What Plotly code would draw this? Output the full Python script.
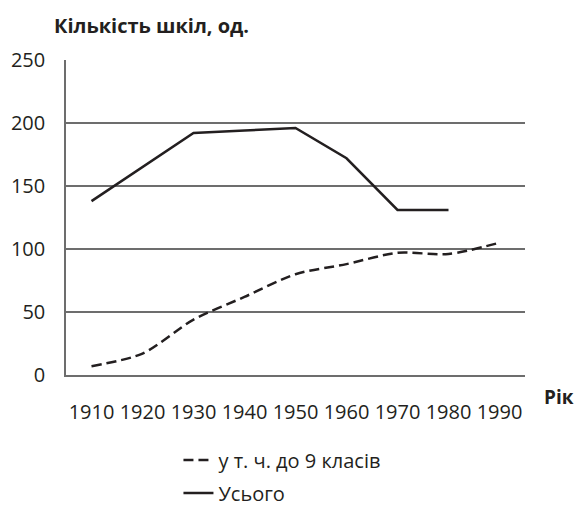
import plotly.graph_objects as go

years = ["1910", "1920", "1930", "1940", "1950", "1960", "1970", "1980", "1990"]
total = [138, 165, 192, 194, 196, 172, 131, 131, None]
upto9 = [7, 17, 44, 62, 80, 88, 97, 96, 105]
y_ticks = [0, 50, 100, 150, 200, 250]

FONT = "Open Sans"
INK = "#231f20"
GRID = "#6d6d6d"

fig = go.Figure()
fig.add_trace(go.Scatter(
    x=years, y=upto9, mode="lines", name="у т. ч. до 9 класів", legend="legend",
    line=dict(color=INK, width=2.5, dash="10px,5px", shape="spline", smoothing=0.8),
))
fig.add_trace(go.Scatter(
    x=years, y=total, mode="lines", name="Усього", legend="legend2",
    line=dict(color=INK, width=2.5),
))

leg_common = dict(
    orientation="v", xanchor="left", yanchor="middle",
    font=dict(size=20, family=FONT, color=INK),
    bgcolor="rgba(0,0,0,0)",
)

fig.update_layout(
    width=575, height=506,
    margin=dict(l=66, r=50, t=60, b=131, autoexpand=False),
    paper_bgcolor="white", plot_bgcolor="white",
    font=dict(family=FONT, color=INK, size=18),
    showlegend=True,
    legend=dict(x=0.245, y=-(460 - 375) / 315, **leg_common),
    legend2=dict(x=0.245, y=-(493 - 375) / 315, **leg_common),
    xaxis=dict(
        type="category", range=[-0.5, 8.5], showgrid=False, automargin=False,
        showline=True, linecolor=GRID, linewidth=1.5,
        ticks="", ticklabelstandoff=18,
        tickfont=dict(size=20, family=FONT, color=INK),
    ),
    yaxis=dict(
        range=[0, 250], tickvals=y_ticks, showgrid=True, automargin=False,
        gridcolor=GRID, gridwidth=1.5, zeroline=False,
        showline=True, linecolor=GRID, linewidth=1.5,
        ticks="", ticklabelstandoff=15,
        tickfont=dict(size=20, family=FONT, color=INK),
    ),
    annotations=[
        dict(text="<b>Кількість шкіл, од.</b>", xref="paper", yref="paper",
             x=(52 - 66) / 459, y=1 + (60 - 26) / 315, xanchor="left", yanchor="middle",
             showarrow=False, font=dict(size=20, family=FONT, color=INK)),
        dict(text="<b>Рік</b>", xref="paper", yref="paper",
             x=1 + (576 - 525) / 459, y=-(397 - 375) / 315, xanchor="right", yanchor="middle",
             showarrow=False, font=dict(size=19, family=FONT, color=INK)),
    ],
)

fig.write_html("out.html", config={"displayModeBar": False},
               post_script="document.body.style.margin='0';")
